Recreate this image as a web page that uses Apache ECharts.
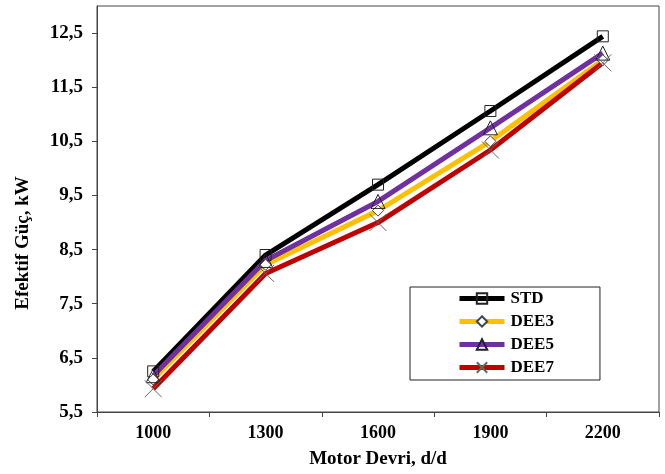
<!DOCTYPE html>
<html>
<head>
<meta charset="utf-8">
<script src="https://cdn.jsdelivr.net/npm/echarts@6/dist/echarts.min.js"></script>
<style>
html,body{margin:0;padding:0;background:#fff;}
#chart{width:665px;height:474px;}
</style>
</head>
<body>
<div id="chart"></div>
<script>
const categories = ['1000', '1300', '1600', '1900', '2200'];
const STD  = [6.25, 8.40, 9.70, 11.06, 12.44];
const DEE3 = [6.10, 8.22, 9.22, 10.50, 12.00];
const DEE5 = [6.17, 8.30, 9.39, 10.75, 12.13];
const DEE7 = [5.93, 8.06, 9.00, 10.34, 11.95];
const yTicks = [5.5, 6.5, 7.5, 8.5, 9.5, 10.5, 11.5, 12.5];

const FONT = "'Liberation Serif', 'Times New Roman', serif";
const chart = echarts.init(document.getElementById('chart'));

function mk(name, data, color, symbol, size, symColor, symBorder) {
  return {
    name: name,
    type: 'line',
    data: data,
    symbol: symbol,
    symbolSize: size,
    showSymbol: true,
    lineStyle: { color: color, width: 5 },
    itemStyle: { color: symColor, borderColor: symBorder, borderWidth: 1 },
    emphasis: { disabled: true },
    animation: false
  };
}

const option = {
  backgroundColor: '#fff',
  animation: false,
  grid: { left: 97, right: 6, top: 6, bottom: 61, show: true, borderColor: '#444', borderWidth: 1 },
  legend: {
    orient: 'vertical',
    left: 410,
    top: 287,
    padding: [3, 46, 4, 47],
    itemWidth: 45,
    itemHeight: 13,
    itemGap: 6,
    backgroundColor: '#fff',
    borderColor: '#222',
    borderWidth: 1,
    borderRadius: 0,
    lineStyle: { width: 5 },
    textStyle: { fontFamily: FONT, fontWeight: 'bold', fontSize: 17, color: '#000', lineHeight: 16, padding: [0, 0, 0, 1] },
    data: ['STD', 'DEE3', 'DEE5', 'DEE7']
  },
  xAxis: {
    type: 'category',
    data: categories,
    boundaryGap: true,
    axisLine: { lineStyle: { color: '#444', width: 1 } },
    axisTick: { show: true, length: 5, lineStyle: { color: '#444' } },
    axisLabel: { margin: 12, fontFamily: FONT, fontWeight: 'bold', fontSize: 18, color: '#000' },
    name: 'Motor Devri, d/d',
    nameLocation: 'middle',
    nameGap: 38,
    nameTextStyle: { fontFamily: FONT, fontWeight: 'bold', fontSize: 19, color: '#000' },
    splitLine: { show: false }
  },
  yAxis: {
    type: 'value',
    min: 5.5,
    max: 13,
    interval: 1,
    axisLine: { show: true, lineStyle: { color: '#444', width: 1 } },
    axisTick: { show: true, length: 5, lineStyle: { color: '#444' } },
    axisLabel: {
      margin: 14,
      fontFamily: FONT, fontWeight: 'bold', fontSize: 19, color: '#000',
      showMaxLabel: false,
      formatter: function (v) {
        return yTicks.indexOf(Math.round(v * 10) / 10) >= 0 ? v.toFixed(1).replace('.', ',') : '';
      }
    },
    splitLine: { show: false }
  },
  graphic: [{
    type: 'text',
    x: 23,
    y: 243,
    rotation: Math.PI / 2,
    style: {
      text: 'Efektif Güç, kW',
      fontFamily: FONT, fontWeight: 'bold', fontSize: 19, fill: '#000',
      align: 'center', verticalAlign: 'middle'
    }
  }],
  series: [
    mk('STD', STD, '#000000', 'rect', 11, 'transparent', '#222'),
    mk('DEE3', DEE3, '#FFC000', 'diamond', 11, '#fff', '#444'),
    mk('DEE5', DEE5, '#7030A0', 'triangle', 14, 'transparent', '#222'),
    mk('DEE7', DEE7, '#C00000', 'path://M0,0L10,10M10,0L0,10', 17, 'none', '#666')
  ]
};
chart.setOption(option);
</script>
</body>
</html>
